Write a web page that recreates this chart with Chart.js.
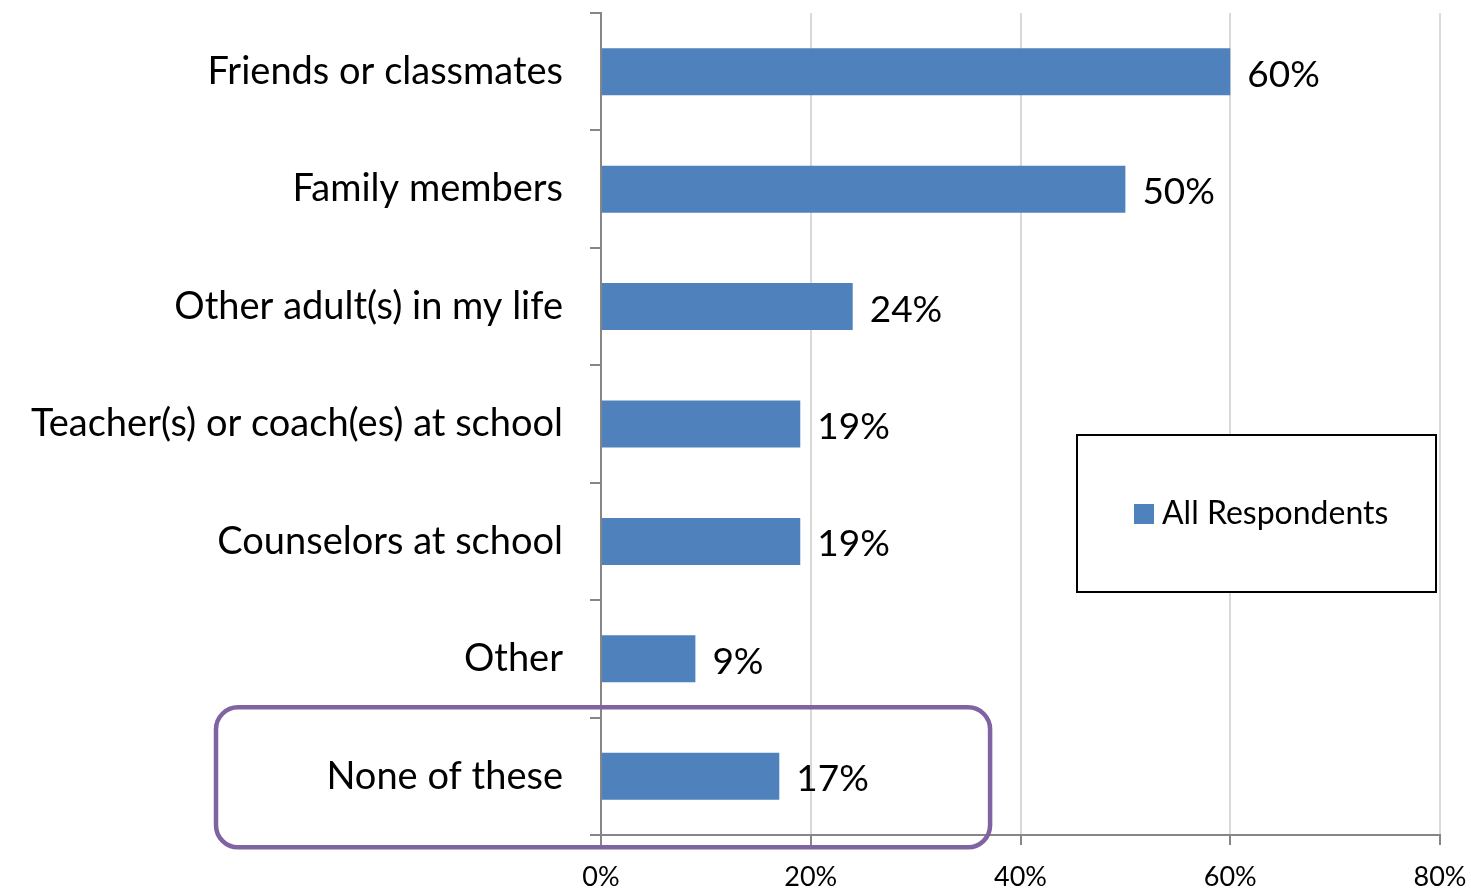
<!DOCTYPE html>
<html>
	<head>
		<meta charset="UTF-8" />
		<title>Chart</title>
		<style type="text/css">
body { margin: 0; background: #ffffff; }
		</style>
	</head>
	<body>
		<script src="https://cdn.jsdelivr.net/npm/chart.js@4"></script>
		<canvas id="myChart" width="1471" height="891"></canvas>
		<script charset="utf-8">
			const categories = [
				'Friends or classmates',
				'Family members',
				'Other adult(s) in my life',
				'Teacher(s) or coach(es) at school',
				'Counselors at school',
				'Other',
				'None of these'
			];
			const allRespondents = [60, 50, 24, 19, 19, 9, 17];
			const xTicks = [0, 20, 40, 60, 80];

			const FONT = 'Lato, "Open Sans", sans-serif';

			// value labels just past the end of each bar
			const barLabels = {
				id: 'barLabels',
				afterDatasetsDraw(chart) {
					const ctx = chart.ctx;
					const meta = chart.getDatasetMeta(0);
					ctx.save();
					ctx.fillStyle = '#000000';
					ctx.font = '37px ' + FONT;
					ctx.textAlign = 'left';
					ctx.textBaseline = 'middle';
					meta.data.forEach((bar, i) => {
						ctx.fillText(allRespondents[i] + '%', bar.x + 17, bar.y + 3);
					});
					ctx.restore();
				}
			};

			// boxed legend inside the plot
			const boxLegend = {
				id: 'boxLegend',
				afterDraw(chart) {
					const ctx = chart.ctx;
					const ds = chart.data.datasets[0];
					ctx.save();
					ctx.fillStyle = '#ffffff';
					ctx.fillRect(1077, 435, 359, 157);
					ctx.strokeStyle = '#000000';
					ctx.lineWidth = 2;
					ctx.strokeRect(1077, 435, 359, 157);
					ctx.fillStyle = ds.backgroundColor;
					ctx.fillRect(1134, 504, 20, 20);
					ctx.fillStyle = '#000000';
					ctx.font = '32px ' + FONT;
					ctx.textBaseline = 'middle';
					ctx.fillText(ds.label, 1162, 514);
					ctx.restore();
				}
			};

			// rounded highlight around the last category
			const highlight = {
				id: 'highlight',
				afterDraw(chart) {
					const ctx = chart.ctx;
					const x = chart.scales.x;
					const y = chart.scales.y;
					const cy = y.getPixelForValue(categories.length - 1);
					const left = 216, right = x.getPixelForValue(37.1);
					const top = cy - 69, bottom = cy + 71;
					ctx.save();
					ctx.strokeStyle = '#8064A2';
					ctx.lineWidth = 4.5;
					ctx.beginPath();
					ctx.roundRect(left, top, right - left, bottom - top, 22);
					ctx.stroke();
					ctx.restore();
				}
			};

			const data = {
				labels: categories,
				datasets: [{
					label: 'All Respondents',
					backgroundColor: '#4F81BD',
					borderWidth: 0,
					data: allRespondents,
					barPercentage: 0.4,
					categoryPercentage: 1
				}]
			};

			const config = {
				type: 'bar',
				data,
				plugins: [barLabels, boxLegend, highlight],
				options: {
					indexAxis: 'y',
					responsive: false,
					animation: false,
					layout: {
						padding: { top: 13, right: 31, left: 0, bottom: 0 }
					},
					plugins: {
						legend: { display: false },
						tooltip: { enabled: false }
					},
					scales: {
						x: {
							min: 0,
							max: 80,
							afterBuildTicks: scale => {
								scale.ticks = xTicks.map(v => ({ value: v }));
							},
							afterFit: scale => {
								scale.height = 56;
								scale.paddingLeft = 0;
								scale.paddingRight = 0;
							},
							grid: {
								color: '#D9D9D9',
								lineWidth: 2,
								tickColor: '#868686',
								tickLength: 10
							},
							border: { color: '#868686', width: 2 },
							ticks: {
								color: '#000000',
								font: { family: FONT, size: 27 },
								padding: 16,
								callback: v => v + '%'
							}
						},
						y: {
							afterFit: scale => {
								scale.width = 601;
								scale.paddingTop = 0;
								scale.paddingBottom = 0;
							},
							grid: {
								offset: true,
								drawOnChartArea: false,
								color: '#868686',
								lineWidth: 2,
								tickLength: 11
							},
							border: { color: '#868686', width: 2 },
							ticks: {
								color: '#000000',
								font: { family: FONT, size: 38 },
								padding: 27
							}
						}
					}
				}
			};

			var ctx = document.getElementById('myChart').getContext('2d');
			var myChart = new Chart(ctx, config);
		</script>
	</body>
</html>
